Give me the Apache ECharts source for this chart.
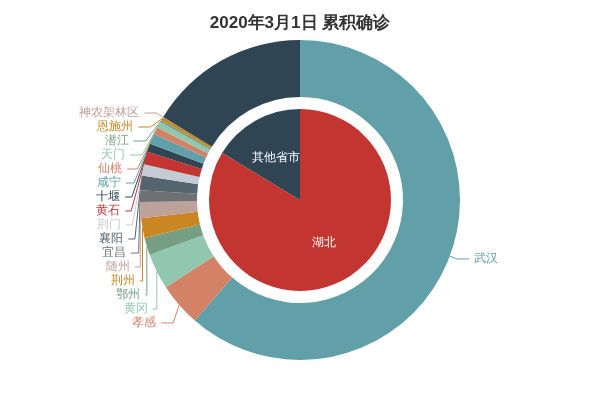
<!DOCTYPE html>
<html><head><meta charset="utf-8">
<script src="https://cdn.jsdelivr.net/npm/echarts@6/dist/echarts.min.js"></script>
<style>html,body{margin:0;padding:0;background:#fff}#c{width:600px;height:400px}</style>
</head><body><div id="c"></div>
<script>
var innerNames = ['湖北', '其他省市'];
var innerValues = [66907, 13061];
var innerColors = ['#c23531', '#2f4554'];

var cityNames = ['武汉', '孝感', '黄冈', '鄂州', '荆州', '随州', '宜昌', '襄阳', '荆门', '黄石', '十堰', '咸宁', '仙桃', '天门', '潜江', '恩施州', '神农架林区', '其他省市'];
var cityValues = [49122, 3518, 2907, 1394, 1580, 1307, 931, 1175, 928, 1015, 672, 836, 575, 496, 198, 252, 11, 13061];
var cityColors = ['#61a0a8', '#d48265', '#91c7ae', '#749f83', '#ca8622', '#bda29a', '#6e7074', '#546570', '#c4ccd3',
  '#c23531', '#2f4554', '#61a0a8', '#d48265', '#91c7ae', '#749f83', '#ca8622', '#bda29a', '#2f4554'];

var chart = echarts.init(document.getElementById('c'));
chart.setOption({
  animation: false,
  title: {
    text: '2020年3月1日 累积确诊', left: 'center', top: 10,
    textStyle: { fontSize: 17, fontWeight: 'bold', color: '#333' }
  },
  series: [{
    type: 'pie', radius: [0, 91], center: [300, 200], clockwise: true, startAngle: 90,
    label: { position: 'inner', color: '#fff', fontSize: 12 },
    labelLine: { show: false },
    data: innerNames.map(function (n, i) {
      return { name: n, value: innerValues[i], itemStyle: { color: innerColors[i] } };
    })
  }, {
    type: 'pie', radius: [103, 160], center: [300, 200], startAngle: 90,
    avoidLabelOverlap: true,
    label: { fontSize: 12, color: 'inherit' },
    labelLine: { length: 8, length2: 12 },
    data: cityNames.map(function (n, i) {
      var d = { name: n, value: cityValues[i], itemStyle: { color: cityColors[i] } };
      if (n === '其他省市') { d.label = { show: false }; d.labelLine = { show: false }; }
      return d;
    })
  }]
});
</script></body></html>
